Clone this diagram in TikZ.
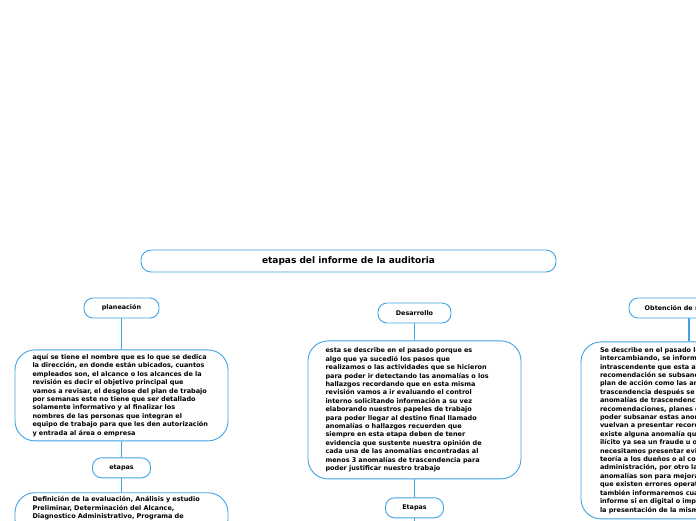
\documentclass[tikz,border=0pt]{standalone}
\usepackage{fontspec}
\setmainfont{DejaVu Sans}
\usetikzlibrary{positioning}
\definecolor{mapblue}{HTML}{3FA4E4}

\begin{document}
\begin{tikzpicture}[x=1pt, y=-1pt,
  ttl/.style={draw=mapblue, line width=0.9pt, rounded corners=10pt, fill=white,
              font=\fontsize{9}{10}\selectfont\bfseries, minimum width=415pt,
              minimum height=22pt},
  lbl/.style={draw=mapblue, line width=0.9pt, rounded corners=9pt, fill=white,
              font=\fontsize{6.4}{8}\selectfont\bfseries, minimum height=20pt,
              inner sep=2pt},
  txt/.style={draw=mapblue, line width=0.9pt, rounded corners=20pt, fill=white,
              align=left, font=\fontsize{6.5}{8.4}\selectfont\bfseries,
              text width=178pt, inner xsep=17.5pt, inner ysep=4pt,
              execute at begin node={\hyphenpenalty=10000}},
  con/.style={draw=mapblue, line width=1.6pt}]
  \useasboundingbox (0,0) rectangle (696,520);
  \clip (0,0) rectangle (696,520);
  \node[ttl] (root) at (348.5,261) {etapas del informe de la auditoria};
  % planeacion
  \node[lbl, minimum width=75pt] (plan) at (121.5,308) {planeación};
  \node[txt, below=31pt of plan, minimum height=91pt] (plantxt) {aquí se tiene el nombre que es lo que se dedica\\ la dirección, en donde están ubicados, cuantos\\ empleados son, el alcance o los alcances de la\\ revisión es decir el objetivo principal que\\ vamos a revisar, el desglose del plan de trabajo\\ por semanas este no tiene que ser detallado\\ solamente informativo y al finalizar los\\ nombres de las personas que integran el\\ equipo de trabajo para que les den autorización\\ y entrada al área o empresa};
  \node[lbl, minimum width=58pt, below=16pt of plantxt] (planetp) {etapas};
  \node[txt, below=14pt of planetp] (planetptxt) {Definición de la evaluación, Análisis y estudio\\ Preliminar, Determinación del Alcance,\\ Diagnostico Administrativo, Programa de\\ Auditoria, Aplicación de la Auditoria\\ e Informe de la Auditoria};
  % desarrollo
  \node[lbl, minimum width=73pt] (des) at (414.5,313) {Desarrollo};
  \node[txt, below=17pt of des, minimum height=138pt] (destxt) {esta se describe en el pasado porque es\\ algo que ya sucedió los pasos que\\ realizamos o las actividades que se hicieron\\ para poder ir detectando las anomalías o los\\ hallazgos recordando que en esta misma\\ revisión vamos a ir evaluando el control\\ interno solicitando información a su vez\\ elaborando nuestros papeles de trabajo\\ para poder llegar al destino final llamado\\ anomalías o hallazgos recuerden que\\ siempre en esta etapa deben de tener\\ evidencia que sustente nuestra opinión de\\ cada una de las anomalías encontradas al\\ menos 3 anomalías de trascendencia para\\ poder justificar nuestro trabajo};
  \node[lbl, minimum width=58pt, below=18pt of destxt] (desetp) {Etapas};
  \coordinate[below=20pt of desetp] (desend);
  % obtencion de resultados
  \node[lbl, minimum width=120pt] (obt) at (689,308) {Obtención de resultados};
  \node[txt, below=23pt of obt, minimum width=216pt, minimum height=177pt] (obttxt) {Se describe en el pasado lo que fuimos\\ intercambiando, se informa lo que fue\\ intrascendente que esta anomalía o\\ recomendación se subsanó y se da un\\ plan de acción como las anomalías de\\ trascendencia después se presentan las\\ anomalías de trascendencia con sus\\ recomendaciones, planes de acción para\\ poder subsanar estas anomalías y no se\\ vuelvan a presentar recordemos que si\\ existe alguna anomalía que sea un acto\\ ilícito ya sea un fraude u otro acto\\ necesitamos presentar evidencias de la\\ teoría a los dueños o al consejo de\\ administración, por otro lado, estas\\ anomalías son para mejorar y demostrar\\ que existen errores operativos y\\ también informaremos cuál será el\\ informe si en digital o impreso y como\\ la presentación de la misma};
  \draw[con] (plan) -- (plantxt);
  \draw[con] (plantxt) -- (planetp);
  \draw[con] (planetp) -- (planetptxt);
  \draw[con] (des) -- (destxt);
  \draw[con] (destxt) -- (desetp);
  \draw[con] (desetp) -- (desend);
  \draw[con] (obt) -- (obttxt);
\end{tikzpicture}
\end{document}
